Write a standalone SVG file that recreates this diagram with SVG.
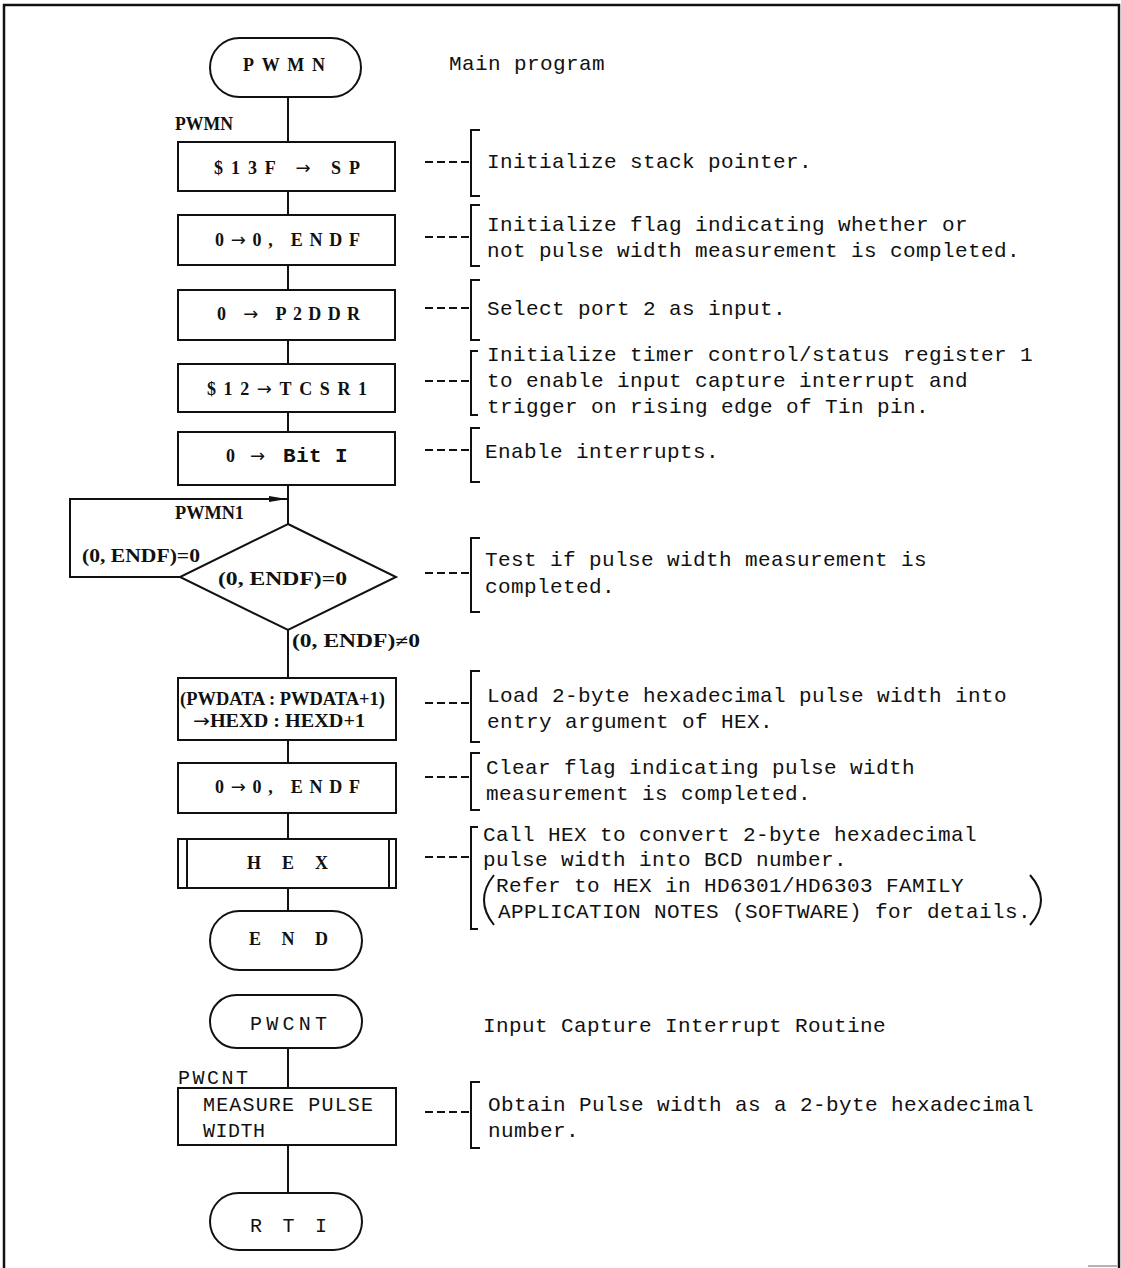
<svg xmlns="http://www.w3.org/2000/svg" width="1121" height="1268" viewBox="0 0 1121 1268">
  <style>
    .frame { fill: none; stroke: #111; stroke-width: 2.5; }
    .n { fill: #fff; stroke: #111; stroke-width: 2; }
    .c { fill: none; stroke: #111; stroke-width: 2; }
    .br { fill: none; stroke: #111; stroke-width: 2; }
    .dash { fill: none; stroke: #111; stroke-width: 2; stroke-dasharray: 8 4; }
    .sf { font-family: "Liberation Serif", "Times New Roman", serif; font-weight: bold; font-size: 18px; fill: #111; }
    .ar { font-family: "DejaVu Sans", sans-serif; font-weight: normal; }
    .mn { font-family: "Liberation Mono", "Courier New", monospace; font-size: 20px; fill: #111; }
    .an { font-family: "Liberation Mono", "Courier New", monospace; font-size: 21px; letter-spacing: 0.4px; fill: #111; }
  </style>
  <defs>
    <marker id="arrow" markerUnits="userSpaceOnUse" markerWidth="19" markerHeight="7" refX="18" refY="3" orient="auto">
      <path d="M0,0 L18,3 L0,6 z" fill="#111"/>
    </marker>
  </defs>

  <rect width="1121" height="1268" fill="#fff"/>

  <!-- page frame -->
  <path class="frame" d="M4,1268 V5 H1119 V1268"/>
  <path d="M1088,1266 H1117" stroke="#999" stroke-width="1.5"/>

  <!-- connectors -->
  <g id="connectors">
    <path class="c" d="M288,97 V142"/>
    <path class="c" d="M288,191 V215"/>
    <path class="c" d="M288,265 V290"/>
    <path class="c" d="M288,340 V364"/>
    <path class="c" d="M288,412 V432"/>
    <path class="c" d="M288,485 V524"/>
    <path class="c" d="M180,577 H70 V499 H287" marker-end="url(#arrow)"/>
    <path class="c" d="M288,630 V678"/>
    <path class="c" d="M288,740 V763"/>
    <path class="c" d="M288,813 V839"/>
    <path class="c" d="M288,888 V911"/>
    <path class="c" d="M288,1048 V1088"/>
    <path class="c" d="M288,1145 V1193"/>
    <text class="sf" x="175" y="130" textLength="58" lengthAdjust="spacingAndGlyphs">PWMN</text>
    <text class="sf" x="175" y="519" textLength="69" lengthAdjust="spacingAndGlyphs">PWMN1</text>
    <text class="sf" x="82" y="562" textLength="118" lengthAdjust="spacingAndGlyphs">(0, ENDF)=0</text>
    <text class="sf" x="292" y="647" textLength="128" lengthAdjust="spacingAndGlyphs">(0, ENDF)≠0</text>
    <text class="mn" x="178" y="1084" textLength="70" lengthAdjust="spacing">PWCNT</text>
  </g>

  <!-- main program -->
  <g id="start-pwmn">
    <rect class="n" x="210" y="38" width="151" height="59" rx="29.5"/>
    <text class="sf" x="243" y="71" textLength="82" lengthAdjust="spacing">PWMN</text>
  </g>
  <g id="set-sp">
    <rect class="n" x="178" y="142" width="217" height="49"/>
    <text class="sf" x="214" y="174" textLength="146" lengthAdjust="spacing">$13F <tspan class="ar">→</tspan> SP</text>
  </g>
  <g id="clear-endf-1">
    <rect class="n" x="178" y="215" width="217" height="50"/>
    <text class="sf" x="215" y="246" textLength="145" lengthAdjust="spacing">0<tspan class="ar">→</tspan>0, ENDF</text>
  </g>
  <g id="set-p2ddr">
    <rect class="n" x="178" y="290" width="217" height="50"/>
    <text class="sf" x="217" y="320" textLength="143" lengthAdjust="spacing">0 <tspan class="ar">→</tspan> P2DDR</text>
  </g>
  <g id="set-tcsr1">
    <rect class="n" x="178" y="364" width="217" height="48"/>
    <text class="sf" x="207" y="395" textLength="160" lengthAdjust="spacing">$12<tspan class="ar">→</tspan>TCSR1</text>
  </g>
  <g id="clear-bit-i">
    <rect class="n" x="178" y="432" width="217" height="53"/>
    <text y="462"><tspan class="sf" x="226">0 </tspan><tspan class="sf ar" x="250">→</tspan><tspan class="an" x="283" font-weight="bold">Bit I</tspan></text>
  </g>
  <g id="test-endf">
    <polygon class="n" points="288,524 396,577 288,630 180,577"/>
    <text class="sf" x="218" y="585" textLength="129" lengthAdjust="spacingAndGlyphs">(0, ENDF)=0</text>
  </g>
  <g id="load-hexd">
    <rect class="n" x="178" y="678" width="218" height="62"/>
    <text class="sf" x="180" y="705" textLength="205" lengthAdjust="spacingAndGlyphs">(PWDATA : PWDATA+1)</text>
    <text class="sf" x="193" y="727" textLength="172" lengthAdjust="spacingAndGlyphs"><tspan class="ar">→</tspan>HEXD : HEXD+1</text>
  </g>
  <g id="clear-endf-2">
    <rect class="n" x="178" y="763" width="218" height="50"/>
    <text class="sf" x="215" y="793" textLength="145" lengthAdjust="spacing">0<tspan class="ar">→</tspan>0, ENDF</text>
  </g>
  <g id="call-hex">
    <rect class="n" x="178" y="839" width="218" height="49"/>
    <path class="c" d="M187,839 V888 M389,839 V888"/>
    <text class="sf" x="247" y="869" textLength="81" lengthAdjust="spacing">HEX</text>
  </g>
  <g id="end">
    <rect class="n" x="210" y="911" width="152" height="59" rx="29.5"/>
    <text class="sf" x="249" y="945" textLength="79" lengthAdjust="spacing">END</text>
  </g>

  <!-- interrupt routine -->
  <g id="start-pwcnt">
    <rect class="n" x="210" y="995" width="152" height="53" rx="26.5"/>
    <text class="mn" x="250" y="1030" textLength="77" lengthAdjust="spacing">PWCNT</text>
  </g>
  <g id="measure">
    <rect class="n" x="178" y="1088" width="218" height="57"/>
    <text class="mn" x="203" y="1111" textLength="170" lengthAdjust="spacing">MEASURE PULSE</text>
    <text class="mn" x="203" y="1137" textLength="62" lengthAdjust="spacing">WIDTH</text>
  </g>
  <g id="rti">
    <rect class="n" x="210" y="1193" width="152" height="57" rx="28.5"/>
    <text class="mn" x="250" y="1232" textLength="77" lengthAdjust="spacing">RTI</text>
  </g>

  <!-- headings -->
  <text class="an" x="449" y="70">Main program</text>
  <text class="an" x="483" y="1032">Input Capture Interrupt Routine</text>

  <!-- remarks -->
  <g id="note-sp">
    <path class="dash" d="M425,162 H469"/>
    <path class="br" d="M480,130 H471 V196 H480"/>
    <text class="an" x="487" y="168">Initialize stack pointer.</text>
  </g>
  <g id="note-endf">
    <path class="dash" d="M425,237 H469"/>
    <path class="br" d="M480,205 H471 V266 H480"/>
    <text class="an" x="487" y="231">Initialize flag indicating whether or</text>
    <text class="an" x="487" y="257">not pulse width measurement is completed.</text>
  </g>
  <g id="note-p2">
    <path class="dash" d="M425,308 H469"/>
    <path class="br" d="M480,280 H471 V340 H480"/>
    <text class="an" x="487" y="315">Select port 2 as input.</text>
  </g>
  <g id="note-tcsr">
    <path class="dash" d="M425,381 H469"/>
    <path class="br" d="M478,351 H471 V415 H478"/>
    <text class="an" x="487" y="361">Initialize timer control/status register 1</text>
    <text class="an" x="487" y="387">to enable input capture interrupt and</text>
    <text class="an" x="487" y="413">trigger on rising edge of Tin pin.</text>
  </g>
  <g id="note-irq">
    <path class="dash" d="M425,450 H469"/>
    <path class="br" d="M480,428 H471 V482 H480"/>
    <text class="an" x="485" y="458">Enable interrupts.</text>
  </g>
  <g id="note-test">
    <path class="dash" d="M425,573 H469"/>
    <path class="br" d="M480,538 H471 V612 H480"/>
    <text class="an" x="485" y="566">Test if pulse width measurement is</text>
    <text class="an" x="485" y="593">completed.</text>
  </g>
  <g id="note-load">
    <path class="dash" d="M425,703 H469"/>
    <path class="br" d="M480,671 H471 V742 H480"/>
    <text class="an" x="487" y="702">Load 2-byte hexadecimal pulse width into</text>
    <text class="an" x="487" y="728">entry argument of HEX.</text>
  </g>
  <g id="note-clear">
    <path class="dash" d="M425,777 H469"/>
    <path class="br" d="M480,753 H471 V810 H480"/>
    <text class="an" x="486" y="774">Clear flag indicating pulse width</text>
    <text class="an" x="486" y="800">measurement is completed.</text>
  </g>
  <g id="note-hex">
    <path class="dash" d="M425,857 H469"/>
    <path class="br" d="M478,827 H471 V929 H478"/>
    <text class="an" x="483" y="841">Call HEX to convert 2-byte hexadecimal</text>
    <text class="an" x="483" y="866">pulse width into BCD number.</text>
    <path class="br" stroke-width="1.8" d="M494,875 Q474,900 494,925"/>
    <text class="an" x="496" y="892">Refer to HEX in HD6301/HD6303 FAMILY</text>
    <text class="an" x="498" y="918">APPLICATION NOTES (SOFTWARE) for details.</text>
    <path class="br" stroke-width="1.8" d="M1030,875 Q1052,900 1030,925"/>
  </g>
  <g id="note-measure">
    <path class="dash" d="M425,1112 H469"/>
    <path class="br" d="M480,1082 H471 V1148 H480"/>
    <text class="an" x="488" y="1111">Obtain Pulse width as a 2-byte hexadecimal</text>
    <text class="an" x="488" y="1137">number.</text>
  </g>
</svg>
